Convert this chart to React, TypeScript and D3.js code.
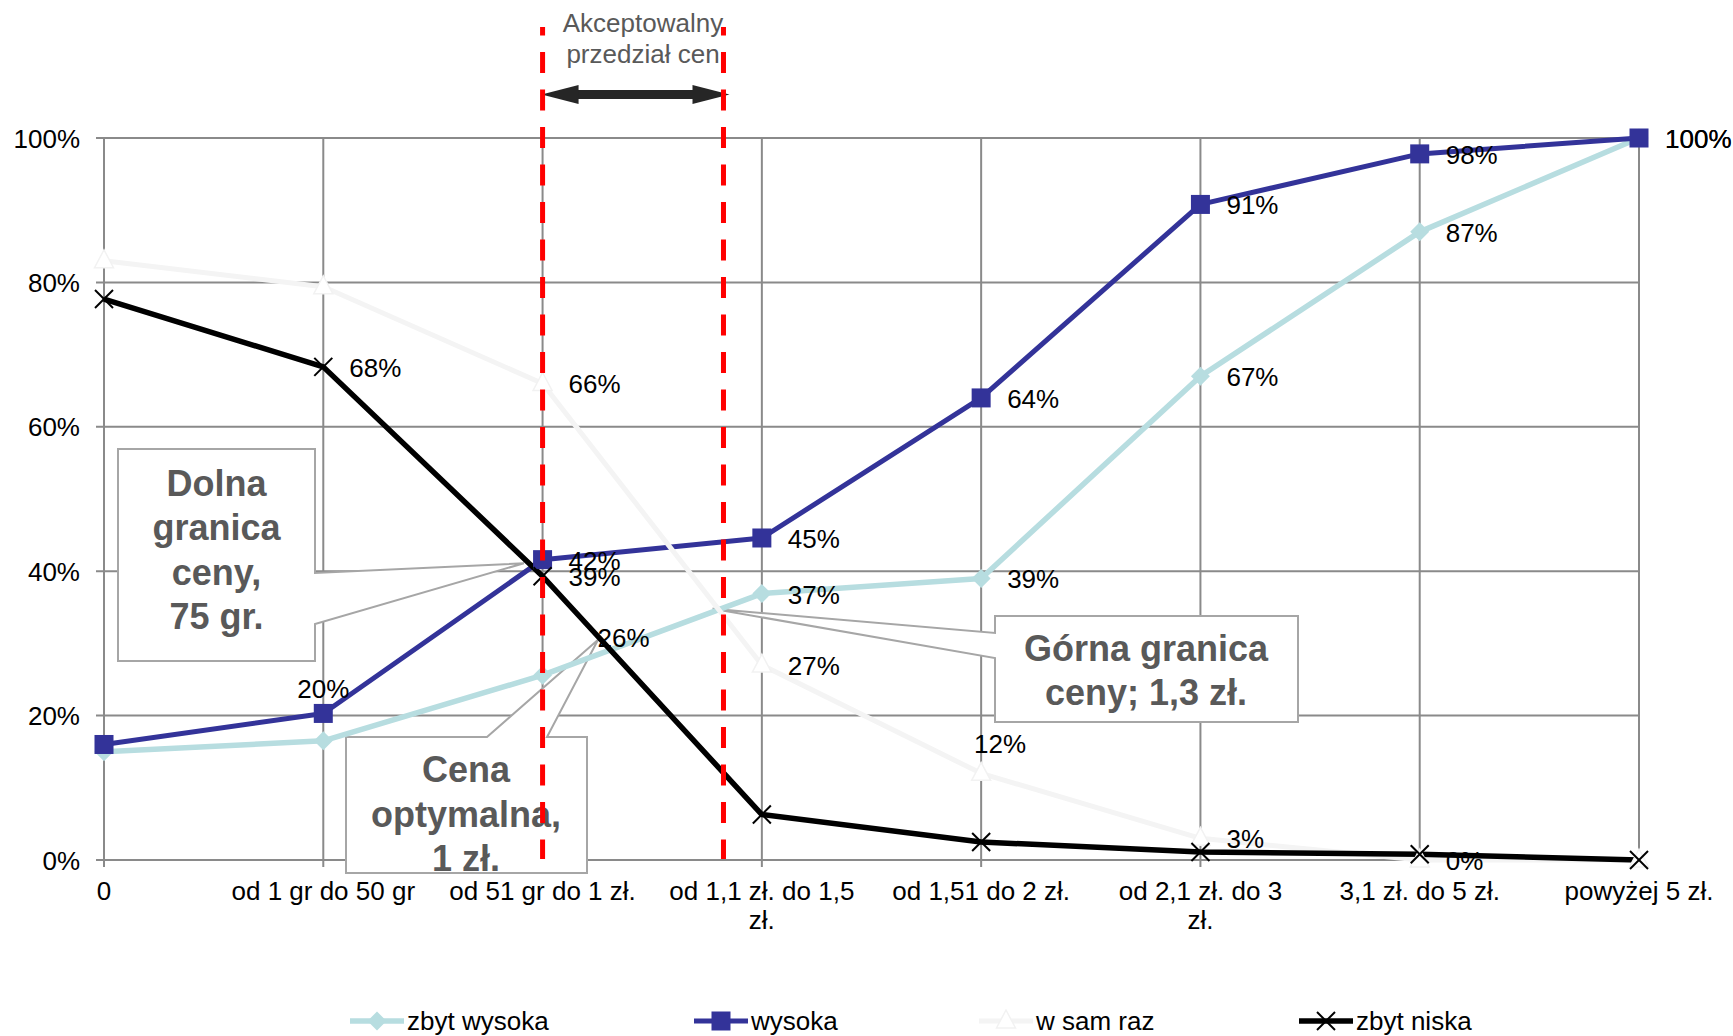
import React from "react";
import * as d3 from "d3";

// ---------- DATA ----------
const categories: string[][] = [
  ["0"],
  ["od 1 gr do 50 gr"],
  ["od 51 gr do 1 zł."],
  ["od 1,1 zł. do 1,5", "zł."],
  ["od 1,51 do 2 zł."],
  ["od 2,1 zł. do 3", "zł."],
  ["3,1 zł. do 5 zł."],
  ["powyżej 5 zł."],
];
const yTicks = [0, 0.2, 0.4, 0.6, 0.8, 1.0];

const zbytWysoka = [0.15, 0.165, 0.256, 0.369, 0.39, 0.67, 0.87, 1.0];
const wysoka = [0.16, 0.203, 0.416, 0.446, 0.64, 0.908, 0.978, 1.0];
const wSamRaz = [0.83, 0.794, 0.66, 0.27, 0.12, 0.03, 0.0, 0.0];
const zbytNiska = [0.777, 0.683, 0.393, 0.063, 0.025, 0.011, 0.008, 0.0];

// indexes of points that carry a data label
const zbytWysokaLabels = [2, 3, 4, 5, 6, 7];
const wysokaLabels = [1, 2, 3, 4, 5, 6, 7];
const wSamRazLabels = [2, 3, 4, 5, 6];
const zbytNiskaLabels = [1, 2];

// price bounds on category-index scale
const lowerBoundIdx = 2.0;
const upperBoundIdx = 2.825;

// ---------- LAYOUT ----------
const W = 1733;
const H = 1036;
const FONT = "'Liberation Sans', Arial, Helvetica, sans-serif";
const x = d3.scaleLinear().domain([0, categories.length - 1]).range([104, 1639]);
const y = d3.scaleLinear().domain([0, 1]).range([860, 138]);
const fmt = (v: number) => Math.round(v * 100) + "%";

type Marker = "diamond" | "square" | "triangle" | "x";
const series = [
  { name: "zbyt wysoka", values: zbytWysoka, labels: zbytWysokaLabels, color: "#B7DDE0", width: 5.5, marker: "diamond" as Marker },
  { name: "wysoka", values: wysoka, labels: wysokaLabels, color: "#333399", width: 5, marker: "square" as Marker },
  { name: "w sam raz", values: wSamRaz, labels: wSamRazLabels, color: "#F4F4F4", width: 5, marker: "triangle" as Marker },
  { name: "zbyt niska", values: zbytNiska, labels: zbytNiskaLabels, color: "#000000", width: 5.5, marker: "x" as Marker },
];

// special label placements (series name + index -> offset)
const labelOffsets: Record<string, { dx: number; dy: number; anchor: string }> = {
  "wysoka-1": { dx: 0, dy: -15, anchor: "middle" },
  "w sam raz-4": { dx: 19, dy: -20, anchor: "middle" },
  "zbyt wysoka-2": { dx: 55, dy: -28, anchor: "start" },
};

function MarkerShape({ type, cx, cy, color }: { type: Marker; cx: number; cy: number; color: string }) {
  switch (type) {
    case "square":
      return <rect x={cx - 9.5} y={cy - 9.5} width={19} height={19} fill={color} />;
    case "diamond":
      return <path d={`M${cx},${cy - 9.5} L${cx + 9.5},${cy} L${cx},${cy + 9.5} L${cx - 9.5},${cy} Z`} fill={color} />;
    case "triangle":
      return (
        <path
          d={`M${cx},${cy - 11} L${cx + 9.5},${cy + 7} L${cx - 9.5},${cy + 7} Z`}
          fill="#FFFFFF"
          stroke="#F2F2F2"
          strokeWidth={1.5}
        />
      );
    case "x":
      return (
        <g stroke="#000" strokeWidth={2}>
          <line x1={cx - 9} y1={cy - 9} x2={cx + 9} y2={cy + 9} />
          <line x1={cx - 9} y1={cy + 9} x2={cx + 9} y2={cy - 9} />
        </g>
      );
  }
}

export default function App() {
  const line = d3
    .line<number>()
    .x((_, i) => x(i))
    .y((d) => y(d));

  const gridColor = "#8A8A8A";
  const calloutStroke = "#A6A6A6";
  const calloutText = "#595959";

  // callout tips (index, value)
  const tipLow = [x(1.915), y(0.411)];
  const tipOpt = [x(2.253), y(0.305)];
  const tipHigh = [x(2.775), y(0.348)];

  const redTop = 27;
  const lowX = x(lowerBoundIdx);
  const highX = x(upperBoundIdx);
  const arrowY = 94.5;

  const legendY = 1021;
  const legendItems = [
    { s: series[0], x1: 350, x2: 404 },
    { s: series[1], x1: 694, x2: 748 },
    { s: series[2], x1: 979, x2: 1033 },
    { s: series[3], x1: 1299, x2: 1353 },
  ];

  return (
    <svg
      width={W}
      height={H}
      viewBox={`0 0 ${W} ${H}`}
      style={{ position: "absolute", left: 0, top: 0, display: "block", background: "#fff" }}
      fontFamily={FONT}
    >
      <rect x={0} y={0} width={W} height={H} fill="#fff" />
      <defs>
        <clipPath id="optClip">
          <rect x={346} y={737} width={241} height={136} />
        </clipPath>
      </defs>

      {/* gridlines */}
      {yTicks.map((t) => (
        <line key={"h" + t} x1={96} x2={x(7)} y1={y(t)} y2={y(t)} stroke={gridColor} strokeWidth={2} />
      ))}
      {categories.map((_, i) => (
        <line key={"v" + i} x1={x(i)} x2={x(i)} y1={y(1)} y2={y(0) + 7} stroke={gridColor} strokeWidth={2} />
      ))}

      {/* y tick labels */}
      {yTicks.map((t) => (
        <text key={"yl" + t} x={80} y={y(t) + 9.5} textAnchor="end" fontSize={26} fill="#000">
          {fmt(t)}
        </text>
      ))}

      {/* x tick labels */}
      {categories.map((lines, i) => (
        <text key={"xl" + i} x={x(i)} y={900} textAnchor="middle" fontSize={26} fill="#000">
          {lines.map((l, j) => (
            <tspan key={j} x={x(i)} dy={j === 0 ? 0 : 29}>
              {l}
            </tspan>
          ))}
        </text>
      ))}

      {/* callouts (boxes) */}
      <path
        d={`M118,449 H315 V573 L${tipLow[0]},${tipLow[1]} L315,624 V661 H118 Z`}
        fill="#fff"
        stroke={calloutStroke}
        strokeWidth={2}
      />
      <path
        d={`M346,737 H487 L${tipOpt[0]},${tipOpt[1]} L547,737 H587 V873 H346 Z`}
        fill="#fff"
        stroke={calloutStroke}
        strokeWidth={2}
      />
      <path
        d={`M995,616 H1298 V722 H995 V658 L${tipHigh[0]},${tipHigh[1]} L995,633 Z`}
        fill="#fff"
        stroke={calloutStroke}
        strokeWidth={2}
      />

      {/* series lines */}
      {series.map((s) => (
        <path
          key={s.name}
          d={line(s.values) || ""}
          fill="none"
          stroke={s.color}
          strokeWidth={s.width}
          strokeLinejoin="round"
        />
      ))}
      {/* markers */}
      {series.map((s) =>
        s.values.map((v, i) => <MarkerShape key={s.name + i} type={s.marker} cx={x(i)} cy={y(v)} color={s.color} />)
      )}

      {/* data labels */}
      {series.map((s) =>
        s.labels.map((i) => {
          const off = labelOffsets[`${s.name}-${i}`] || { dx: 26, dy: 10, anchor: "start" };
          return (
            <text
              key={"dl" + s.name + i}
              x={x(i) + off.dx}
              y={y(s.values[i]) + off.dy}
              textAnchor={off.anchor as any}
              fontSize={26}
              fill="#000"
            >
              {fmt(s.values[i])}
            </text>
          );
        })
      )}

      {/* callout texts */}
      <g fill={calloutText} fontWeight="bold" fontSize={36} textAnchor="middle">
        {["Dolna", "granica", "ceny,", "75 gr."].map((t, j) => (
          <text key={"d" + j} x={216.5} y={496 + j * 44.3}>
            {t}
          </text>
        ))}
        <g clipPath="url(#optClip)">
          {["Cena", "optymalna,", "1 zł."].map((t, j) => (
            <text key={"c" + j} x={466} y={782 + j * 44.5}>
              {t}
            </text>
          ))}
        </g>
        {["Górna granica", "ceny; 1,3 zł."].map((t, j) => (
          <text key={"g" + j} x={1146} y={661 + j * 44}>
            {t}
          </text>
        ))}
      </g>

      {/* acceptable range annotation */}
      <g fill="#595959" fontSize={26} textAnchor="middle">
        <text x={643} y={32}>Akceptowalny</text>
        <text x={643} y={63}>przedział cen</text>
      </g>
      <line x1={570} x2={698} y1={arrowY} y2={arrowY} stroke="#262626" strokeWidth={9} />
      <path d={`M${lowX - 1},${arrowY} L${lowX + 36},${arrowY - 9.5} L${lowX + 36},${arrowY + 9.5} Z`} fill="#262626" />
      <path d={`M${highX + 6},${arrowY} L${highX - 31},${arrowY - 9.5} L${highX - 31},${arrowY + 9.5} Z`} fill="#262626" />

      {/* red dashed bound lines */}
      {[lowX, highX].map((lx, k) => (
        <line
          key={"red" + k}
          x1={lx}
          x2={lx}
          y1={redTop}
          y2={y(0) - 1}
          stroke="#FF0000"
          strokeWidth={5}
          strokeDasharray="21 16.5"
          strokeDashoffset={12.5}
        />
      ))}

      {/* legend */}
      {legendItems.map(({ s, x1, x2 }) => (
        <g key={"lg" + s.name}>
          <line x1={x1} x2={x2} y1={legendY} y2={legendY} stroke={s.color} strokeWidth={s.width} />
          <MarkerShape type={s.marker} cx={(x1 + x2) / 2} cy={legendY} color={s.color} />
          <text x={x2 + 3} y={legendY + 8.5} fontSize={26} fill="#000">
            {s.name}
          </text>
        </g>
      ))}
    </svg>
  );
}
